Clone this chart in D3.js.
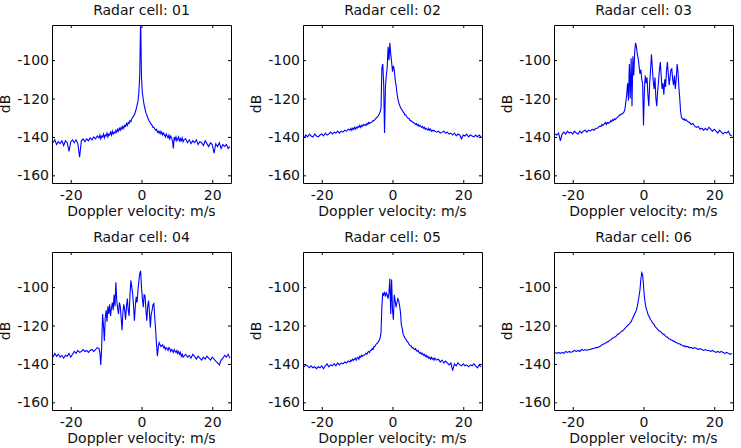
<!DOCTYPE html>
<html lang="en">
<head>
<meta charset="UTF-8">
<title>Radar cells</title>
<script src="https://d3js.org/d3.v7.min.js"></script>
<style>
    body { margin: 0; background: #fff; }
    text { font-family: "DejaVu Sans", sans-serif; font-size: 14px; fill: #111; }
    .trace { fill: none; stroke: #0000ff; stroke-width: 1.1px; }
    .axis path, .axis line { stroke: #000; }
</style>
</head>
<body>
<script>

// velocity grid (m/s): 0.5 step in the tails, 0.25 step in the middle
var velocity = d3.range(-25, -12, 0.5)
    .concat(d3.range(-12, 12.001, 0.25))
    .concat(d3.range(12.5, 25.001, 0.5));

var titles = ["Radar cell: 01", "Radar cell: 02", "Radar cell: 03",
              "Radar cell: 04", "Radar cell: 05", "Radar cell: 06"];
var xTicks = [-20, 0, 20];
var yTicks = [-160, -140, -120, -100];
var xLimits = [-25.3, 25.3];
var yLimits = [-164, -81.7];

// spectra in dB, one value per velocity sample
var cell01 = [
    -143, -141.5, -144, -142.5,
    -143.5, -142, -144.5, -142,
    -143, -147.5, -142.5, -141.5,
    -143, -141.5, -143.5, -150.5,
    -142, -141, -142.5, -141,
    -142, -140.5, -141.5, -140,
    -141, -139.5,
    -140.5, -139, -141, -139.5, -140, -138.5, -140.5, -139,
    -139.5, -138, -140, -138.5, -139, -137.5, -139, -137,
    -138.5, -137.5, -138, -136.5, -137.5, -136, -137, -135.5,
    -136.5, -135, -136, -134.5, -135.5, -134, -134.5, -133,
    -134, -132.5, -133, -131.5, -132, -130.5, -130, -129,
    -128.5, -127, -125.5, -123.5, -121.5, -117, -108, -78,
    -109, -117, -120.5, -123.5, -125.5, -127.5, -128.5, -130,
    -131, -132, -132.5, -133.5, -134, -135, -135, -136,
    -136.5, -136, -137.5, -137, -138, -137, -138.5, -137.5,
    -139, -138, -139, -140, -138.5, -139.5, -140.5, -139,
    -141, -139.5, -140.5, -142, -146, -140, -141.5, -140,
    -142, -141, -140, -142.5, -141, -142, -140.5, -142.5,
    -141.5,
    -141, -143,
    -141.5, -143.5, -142, -143,
    -141.5, -144, -142.5, -143,
    -144.5, -142, -143.5, -145,
    -143, -144, -148.5, -143.5,
    -145, -143, -146, -144,
    -145, -144, -146, -145
];

var cell02 = [
    -140.5, -139, -140, -138.5,
    -139.5, -140, -138.5, -139.5,
    -140, -139, -138.5, -139.5,
    -138, -139, -138.5, -137.5,
    -138.5, -137.5, -138, -137,
    -138, -137, -137.5, -136.5,
    -137, -136,
    -136.5, -135.5, -136.5, -135.5, -136, -135, -136, -135,
    -135.5, -134.5, -135, -134, -135, -134, -134.5, -133.5,
    -134, -133.5, -134, -133, -133.5, -132.5, -133, -132.5,
    -132.5, -132, -131.5, -131.5, -131, -130.5, -130, -129.5,
    -129, -128, -127, -125, -104, -102, -112, -138,
    -114, -108, -104, -93, -100, -91, -97, -101,
    -106, -103, -105, -110, -113, -117, -120, -122,
    -123.5, -124.5, -125.5, -126, -127, -127.5, -128.5, -128.5,
    -129.5, -130, -130.5, -130.5, -131.5, -131.5, -132, -132.5,
    -132.5, -133, -133.5, -133, -134, -133.5, -134.5, -134,
    -134.5, -135, -134.5, -135.5, -135, -136, -135.5, -136,
    -136.5, -135.5, -136.5, -136, -137, -136.5, -137, -136.5,
    -137,
    -137.5, -137,
    -138, -137.5, -137, -138,
    -137.5, -138.5, -138, -139,
    -138, -139.5, -138.5, -139,
    -141, -139, -139.5, -138.5,
    -140, -139, -139.5, -140,
    -139, -140, -139, -140
];

var cell03 = [
    -138.5, -139, -138, -142,
    -138.5, -137.5, -138.5, -137,
    -138, -137.5, -138.5, -137,
    -138, -138.5, -137, -138,
    -137, -136.5, -137.5, -136.5,
    -137, -136, -136.5, -135.5,
    -135.5, -134.5,
    -134.5, -133.5, -134, -133.5, -133, -132.5, -133.5, -132.5,
    -133, -132.5, -132.5, -131.5, -132, -131, -131.5, -130.5,
    -131, -130.5, -130, -129.5, -129, -128.5, -128.5, -128,
    -128, -127.5, -127, -125.5, -122, -118, -112, -121,
    -102, -120, -99, -124, -98, -108, -96, -91,
    -93, -97, -99, -103, -107, -105, -110, -112,
    -134, -116, -108, -112, -109, -118, -124, -112,
    -105, -97, -104, -111, -115, -109, -120, -124,
    -116, -111, -105, -101, -108, -115, -112, -118,
    -110, -114, -106, -101, -107, -113, -109, -105,
    -104.5, -110, -113, -108, -115, -110, -102, -106,
    -114, -120, -127, -130, -130.5, -131, -130.5, -131.5,
    -131,
    -132, -132.5,
    -133.5, -133, -134.5, -135,
    -134.5, -136, -135.5, -136.5,
    -135.5, -136.5, -135, -136,
    -137, -136, -137, -138,
    -136.5, -137.5, -138.5, -137.5,
    -138, -137, -139, -139.5
];

var cell04 = [
    -136.5, -134.5, -136, -135,
    -136.5, -135.5, -137, -135.5,
    -136, -134.5, -136.5, -135,
    -133.5, -134.5, -133, -134,
    -133.5, -132.5, -133.5, -133,
    -134, -133, -132.5, -133.5,
    -132.5, -131.5,
    -132, -134.5, -140.5, -131, -114, -120, -128, -116,
    -112, -118, -110, -114, -109, -115, -111, -108,
    -112, -104, -110, -97.5, -107, -111, -114, -108,
    -110, -116, -122.5, -113, -109, -112, -117, -110,
    -106, -112, -115, -104, -96.5, -100, -103.5, -110,
    -117.5, -110, -105, -108, -101.5, -97, -93, -91.5,
    -100, -106, -110.5, -104, -104.5, -112, -117.5, -110,
    -107, -113, -121, -114, -112, -109, -108.5, -116,
    -122.5, -130, -136, -131, -129, -130, -131, -130.5,
    -130, -131.5, -131, -132.5, -131.5, -132, -133, -131.5,
    -132, -133.5, -132.5, -133, -134, -132.5, -133.5, -134,
    -133, -134.5, -133.5, -135, -134, -136, -135, -136.5,
    -136,
    -135, -136.5,
    -135.5, -137, -135, -136,
    -137.5, -136, -137, -138,
    -136.5, -137.5, -136, -137,
    -138, -136.5, -137.5, -138.5,
    -139.5, -140.5, -138, -137,
    -135.5, -136.5, -135, -137
];

var cell05 = [
    -141.5, -140.5, -141, -142,
    -141, -142, -141.5, -142.5,
    -141.5, -142, -141, -142.5,
    -141, -140, -141.5, -140.5,
    -141, -140, -141, -139.5,
    -140.5, -139.5, -140, -139,
    -139.5, -138.5,
    -139, -138, -138.5, -137.5, -138, -137.5, -137, -138,
    -137, -136.5, -137.5, -136, -136.5, -135.5, -136, -135.5,
    -135.5, -135, -134.5, -135, -134, -133.5, -134, -133,
    -133, -132, -132.5, -131, -131, -130, -129.5, -129,
    -128.5, -127.5, -126.5, -124, -110, -103, -104, -102.5,
    -105, -103, -104, -106, -103, -95.5, -114, -96,
    -112, -117, -104, -107, -110.5, -108, -106, -107,
    -109.5, -113, -119.5, -121.5, -124.5, -125.5, -126.5, -127,
    -128, -128.5, -129, -130, -130.5, -130.5, -131.5, -131.5,
    -132, -132.5, -132, -133, -133.5, -133, -134, -134.5,
    -134, -135, -134.5, -135.5, -135, -136, -135.5, -136.5,
    -136, -137, -136.5, -137.5, -136.5, -137.5, -137, -138,
    -137,
    -138, -137.5,
    -139, -138, -139.5, -138.5,
    -139.5, -140.5, -139.5, -143.5,
    -140, -141, -139.5, -140.5,
    -141, -140, -141, -140.5,
    -141.5, -140.5, -141, -140,
    -141, -142, -140.5, -141.5
];

var cell06 = [
    -134, -134.5, -134, -134.5,
    -134, -134.5, -133.5, -134,
    -133.5, -134, -133.5, -133,
    -133.5, -133, -133.5, -132.5,
    -133, -132.5, -133, -132.5,
    -132.5, -132, -132, -131.5,
    -131.5, -131,
    -130.5, -130, -130, -129.5, -129.5, -129, -129, -128.5,
    -128.5, -128, -127.5, -127.5, -127, -126.5, -126.5, -126,
    -126, -125.5, -125, -124.5, -124.5, -124, -123.5, -123,
    -123, -122.5, -122, -121.5, -121, -120.5, -120, -119.5,
    -119.3, -118.5, -118, -117, -116, -115, -114, -113,
    -112, -110, -107.5, -104.5, -101.5, -96, -92.5, -93.5,
    -99, -105, -108.5, -111, -112.5, -114, -115, -116,
    -117, -117.5, -118.5, -119, -119.5, -120.5, -121, -121.5,
    -122, -122.5, -123, -123, -123.5, -124, -124.5, -124.5,
    -125, -125.5, -126, -126, -126.5, -127, -127, -127.5,
    -127.5, -128, -128, -128.5, -128.5, -129, -129, -129.5,
    -129.5, -129.5, -130, -130, -130.5, -130.5, -131, -130.5,
    -131,
    -131, -131.5,
    -131.5, -132, -131.5, -132,
    -132.5, -132, -132.5, -133,
    -132.5, -133, -133, -133.5,
    -133, -133.5, -134, -133.5,
    -134, -133.5, -134, -134.5,
    -134, -134.5, -135, -134.5
];

var cells = [cell01, cell02, cell03, cell04, cell05, cell06];

// Layout of the 2x3 grid of axes
var width = 741, height = 448;
var colLeft = [52, 303, 554],
    rowTop = [25, 252];
var plotW = 179, plotH = 158;

var svg = d3.select("body")
    .append("svg")
    .attr("width", width)
    .attr("height", height);

var x = d3.scaleLinear().domain(xLimits).range([0, plotW]);
var y = d3.scaleLinear().domain(yLimits).range([plotH, 0]);

var valueline = d3.line()
    .x(function(d, i) { return x(velocity[i]); })
    .y(function(d) { return y(d); });

// plain hyphen minus like the original, not U+2212
var plain = function(d) { return String(d); };

cells.forEach(function(values, k) {
    var g = svg.append("g")
        .attr("transform", "translate(" + colLeft[k % 3] + "," + rowTop[Math.floor(k / 3)] + ")");

    g.append("clipPath")
        .attr("id", "clip" + k)
        .append("rect")
        .attr("width", plotW)
        .attr("height", plotH);

    g.append("path")
        .datum(values)
        .attr("class", "trace")
        .attr("clip-path", "url(#clip" + k + ")")
        .attr("d", valueline);

    // box with inward ticks on all four sides (labels only bottom / left)
    g.append("g").attr("class", "axis")
        .attr("transform", "translate(0," + plotH + ")")
        .call(d3.axisBottom(x).tickValues(xTicks).tickFormat(plain)
            .tickSizeInner(-3).tickSizeOuter(0).tickPadding(7.5));
    g.append("g").attr("class", "axis")
        .call(d3.axisTop(x).tickValues(xTicks).tickSizeInner(-3).tickSizeOuter(0).tickFormat(""));
    g.append("g").attr("class", "axis")
        .call(d3.axisLeft(y).tickValues(yTicks).tickFormat(plain)
            .tickSizeInner(-3).tickSizeOuter(0).tickPadding(3));
    g.append("g").attr("class", "axis")
        .attr("transform", "translate(" + plotW + ",0)")
        .call(d3.axisRight(y).tickValues(yTicks).tickSizeInner(-3).tickSizeOuter(0).tickFormat(""));

    g.append("text")
        .attr("x", plotW / 2)
        .attr("y", -10.5)
        .attr("text-anchor", "middle")
        .text(titles[k]);

    g.append("text")
        .attr("x", plotW / 2)
        .attr("y", plotH + 33)
        .attr("text-anchor", "middle")
        .text("Doppler velocity: m/s");

    g.append("text")
        .attr("transform", "translate(-42," + (plotH / 2) + ") rotate(-90)")
        .attr("text-anchor", "middle")
        .text("dB");
});

</script>
</body>
</html>
